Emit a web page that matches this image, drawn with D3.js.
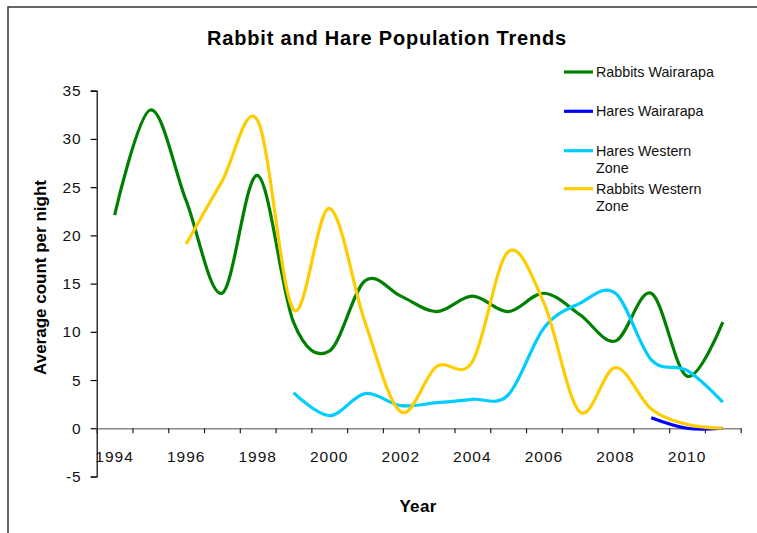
<!DOCTYPE html>
<html>
<head>
<meta charset="utf-8">
<script src="https://cdn.jsdelivr.net/npm/d3@7"></script>
<style>
  body { margin: 0; background: #fff; }
  svg { display: block; font-family: "Liberation Sans", Arial, sans-serif; }
</style>
</head>
<body>
<div id="chart"></div>
<script>
// data
const years = d3.range(1994, 2012)
const yearLabels = [1994, 1996, 1998, 2000, 2002, 2004, 2006, 2008, 2010]
const yTicks = [-5, 0, 5, 10, 15, 20, 25, 30, 35]

const rabbitsWairarapaYears = d3.range(1994, 2012)
const rabbitsWairarapa = [22.1, 33.0, 23.6, 14.0, 26.2, 11.0, 8.0, 15.3, 13.7, 12.1, 13.7, 12.1, 14.0, 11.8, 9.05, 14.0, 5.4, 11.0]

const haresWairarapaYears = [2009, 2010, 2011]
const haresWairarapa = [1.1, 0.0, 0.0]

const haresWesternYears = d3.range(1999, 2012)
const haresWestern = [3.7, 1.3, 3.6, 2.35, 2.65, 3.0, 3.45, 10.4, 12.95, 14.0, 7.1, 6.0, 2.7]

const rabbitsWesternYears = d3.range(1996, 2012)
const rabbitsWestern = [19.1, 25.6, 31.9, 12.3, 22.8, 11.0, 1.7, 6.4, 6.9, 18.3, 13.0, 1.7, 6.3, 2.0, 0.4, 0.0]

const seriesNames = ['Rabbits Wairarapa', 'Hares Wairarapa', 'Hares Western Zone', 'Rabbits Western Zone']
const seriesColors = ['#008000', '#0000ff', '#00ccff', '#ffcc00']

const width = 757, height = 533

const series = [
  { name: seriesNames[0], color: seriesColors[0], years: rabbitsWairarapaYears, values: rabbitsWairarapa },
  { name: seriesNames[1], color: seriesColors[1], years: haresWairarapaYears, values: haresWairarapa },
  { name: seriesNames[2], color: seriesColors[2], years: haresWesternYears, values: haresWestern },
  { name: seriesNames[3], color: seriesColors[3], years: rabbitsWesternYears, values: rabbitsWestern }
]

const svg = d3.select('#chart').append('svg')
    .attr('width', width)
    .attr('height', height)

// outer frame (cut off at right and bottom like the original)
svg.append('rect')
    .attr('x', 8)
    .attr('y', 7)
    .attr('width', 900)
    .attr('height', 700)
    .attr('fill', 'none')
    .attr('stroke', '#333')
    .attr('stroke-width', 1.5)

// category edges: each year takes one band
const x = d3.scaleLinear()
    .domain([1994, 2012])
    .range([96.7, 740.7])

const y = d3.scaleLinear()
    .domain([-5, 35])
    .range([476.5, 90.7])

// title
svg.append('text')
    .attr('x', 387)
    .attr('y', 44.5)
    .attr('text-anchor', 'middle')
    .attr('font-size', 20)
    .attr('font-weight', 'bold')
    .attr('letter-spacing', 0.8)
    .attr('fill', '#000')
    .text('Rabbit and Hare Population Trends')

// y axis
const yAxis = svg.append('g')
    .attr('transform', 'translate(' + x(1994) + ',0)')
    .call(d3.axisLeft(y).tickValues(yTicks).tickSize(6).tickPadding(9).tickFormat(d => String(d)))
yAxis.select('.domain').attr('stroke', '#000').attr('stroke-width', 1.2)
yAxis.selectAll('.tick line').attr('stroke', '#000').attr('stroke-width', 1.2)
yAxis.selectAll('.tick text')
    .attr('font-size', 15.5)
    .attr('letter-spacing', 1)
    .attr('font-family', '"Liberation Sans", Arial, sans-serif')
    .attr('fill', '#111')

// x axis at zero, ticks on band edges
const xAxis = svg.append('g')
    .attr('transform', 'translate(0,' + y(0) + ')')
    .call(d3.axisBottom(x).tickValues(d3.range(1994, 2013)).tickSize(5).tickSizeOuter(0).tickFormat(''))
xAxis.select('.domain').attr('stroke', '#888').attr('stroke-width', 1.5)
xAxis.selectAll('.tick line').attr('stroke', '#222').attr('stroke-width', 1.2)

// x labels centred in their band
svg.append('g')
    .selectAll('text')
    .data(yearLabels)
    .enter().append('text')
        .attr('x', d => x(d + 0.5))
        .attr('y', y(0) + 34)
        .attr('text-anchor', 'middle')
        .attr('font-size', 15.5)
        .attr('letter-spacing', 1)
        .attr('fill', '#111')
        .text(d => d)

// axis titles
svg.append('text')
    .attr('transform', 'translate(46,277.5) rotate(-90)')
    .attr('text-anchor', 'middle')
    .attr('font-size', 17)
    .attr('font-weight', 'bold')
    .attr('fill', '#000')
    .text('Average count per night')

svg.append('text')
    .attr('x', 418)
    .attr('y', 512)
    .attr('text-anchor', 'middle')
    .attr('font-size', 17)
    .attr('font-weight', 'bold')
    .attr('letter-spacing', 0.3)
    .attr('fill', '#000')
    .text('Year')

// lines, smoothed like the spreadsheet
const line = d3.line()
    .x(d => x(d[0] + 0.5))
    .y(d => y(d[1]))
    .curve(d3.curveCardinal.tension(0))

svg.append('g')
    .selectAll('path')
    .data(series)
    .enter().append('path')
        .attr('d', s => line(s.years.map((yr, i) => [yr, s.values[i]])))
        .attr('fill', 'none')
        .attr('stroke', s => s.color)
        .attr('stroke-width', 3.2)
        .attr('stroke-linejoin', 'round')

// legend
const legendRows = [
  { lines: ['Rabbits Wairarapa'], y: 72 },
  { lines: ['Hares Wairarapa'], y: 111.3 },
  { lines: ['Hares Western', 'Zone'], y: 150.7 },
  { lines: ['Rabbits Western', 'Zone'], y: 188.7 }
]
const legend = svg.append('g')
    .selectAll('g')
    .data(legendRows)
    .enter().append('g')
        .attr('transform', d => 'translate(0,' + d.y + ')')

legend.append('line')
    .attr('x1', 564)
    .attr('x2', 593)
    .attr('y1', 0)
    .attr('y2', 0)
    .attr('stroke', (d, i) => seriesColors[i])
    .attr('stroke-width', 3.2)

legend.append('text')
    .attr('x', 596)
    .attr('y', 5)
    .attr('font-size', 14.3)
    .attr('fill', '#111')
    .selectAll('tspan')
    .data(d => d.lines)
    .enter().append('tspan')
        .attr('x', 596)
        .attr('dy', (d, i) => i === 0 ? 0 : 17.7)
        .text(d => d)
</script>
</body>
</html>
